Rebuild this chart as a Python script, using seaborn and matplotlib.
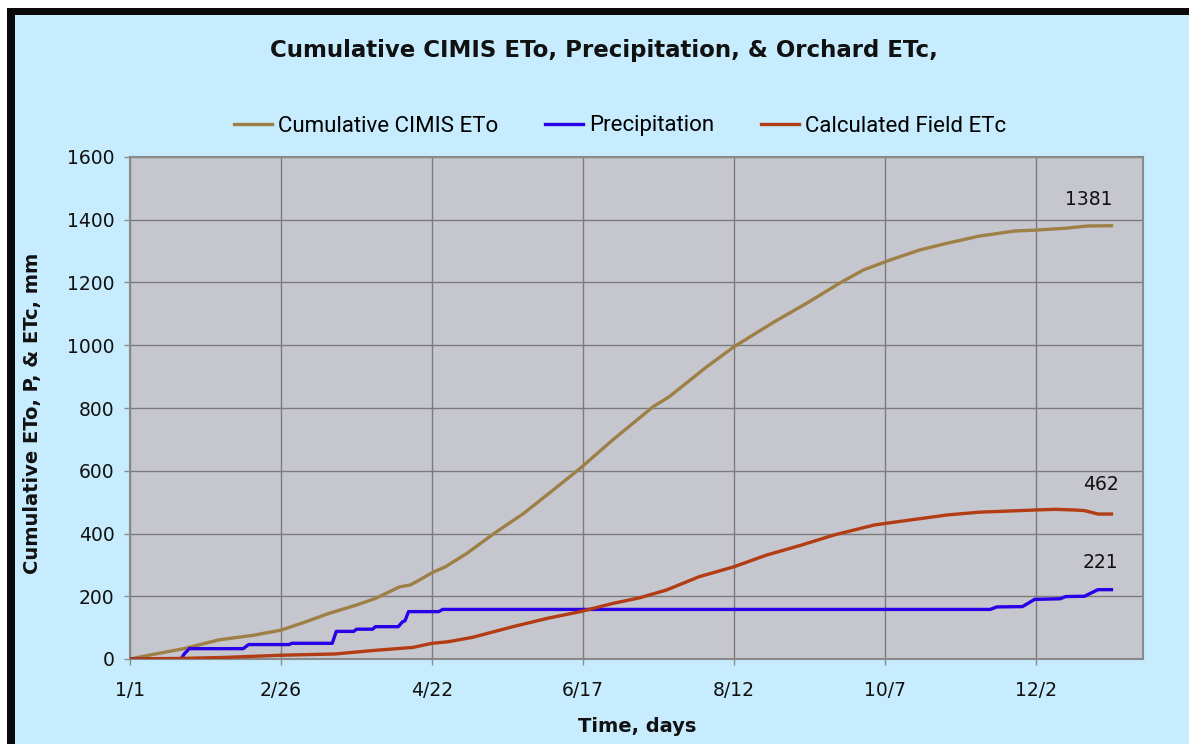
import matplotlib
matplotlib.use("Agg")
import matplotlib.pyplot as plt
import seaborn as sns
import pandas as pd
from matplotlib.patches import Rectangle

# ---- data ----
eto_day = [0, 10, 20, 33, 46, 56, 65, 74, 84, 91, 100, 104, 108, 112, 117, 125, 135, 146, 157, 167,
           179, 194, 200, 214, 224, 239, 251, 263, 272, 282, 293, 303, 315, 328, 336, 347, 355, 364]
eto_val = [0, 17, 33, 61, 76, 92, 118, 146, 172, 193, 230, 236, 255, 275, 294, 337, 400, 464, 539, 608,
           698, 804, 836, 932, 995, 1075, 1134, 1197, 1240, 1272, 1304, 1325, 1348, 1364, 1367, 1373, 1380, 1381]

precip_day = [0, 19, 20, 22, 42, 44, 59, 60, 75, 76.5, 83, 84, 90, 91, 99.5, 101, 102, 103.3, 114.5, 116,
              319, 321.5, 331, 335.5, 345, 347, 354, 359, 364]
precip_val = [0, 0, 15, 33, 33, 46, 46, 50, 50, 88, 88, 95, 95, 103, 103, 118, 122, 151, 151, 158,
              158, 166, 167, 190, 192, 199, 200, 221, 221]

etc_day = [0, 20, 35, 56, 76, 90, 105, 112, 118, 127, 142, 155, 167, 179, 189, 199, 211, 224, 236, 249,
           261, 276, 280, 291, 303, 315, 336, 343, 350, 354, 359, 364]
etc_val = [0, 2, 5, 12, 16, 27, 37, 50, 55, 69, 103, 130, 151, 177, 195, 220, 262, 294, 331, 363,
           395, 427, 432, 445, 459, 468, 475, 477, 475, 473, 462, 462]

tick_days = [0, 56, 112, 168, 224, 280, 336]
tick_labels = ["1/1", "2/26", "4/22", "6/17", "8/12", "10/7", "12/2"]
y_ticks = list(range(0, 1601, 200))

end_labels = ["1381", "462", "221"]

series_names = ["Cumulative CIMIS ETo", "Precipitation", "Calculated Field ETc"]
colors = ["#9E8046", "#2A00E6", "#B23C14"]

# ---- figure ----
W, H = 1189, 744
fig = plt.figure(figsize=(W / 100, H / 100), dpi=100, facecolor="white")

# black frame and light-blue chart area
fig.patches.append(Rectangle((7 / W, 0), 1 - 7 / W, 1 - 8 / H, transform=fig.transFigure,
                             facecolor="#0a0a0a", edgecolor="none", zorder=-3))
fig.patches.append(Rectangle((15 / W, 0), 1 - 15 / W, 1 - 15 / H, transform=fig.transFigure,
                             facecolor="#C6ECFD", edgecolor="none", zorder=-2))

left, right, bottom, top = 130 / W, 1143 / W, 1 - 659 / H, 1 - 157 / H
ax = fig.add_axes([left, bottom, right - left, top - bottom])
ax.set_facecolor("#C6C6CF")

datasets = [(eto_day, eto_val), (precip_day, precip_val), (etc_day, etc_val)]
for (d, v), name, c in zip(datasets, series_names, colors):
    df = pd.DataFrame({"day": d, "value": v})
    sns.lineplot(data=df, x="day", y="value", ax=ax, color=c, lw=2.4, label=name,
                 estimator=None, sort=False, zorder=3)

ax.set_xlim(0, 375.7)
ax.set_ylim(0, 1600)
ax.set_xticks(tick_days)
ax.set_xticklabels(tick_labels)
ax.set_yticks(y_ticks)
ax.grid(True, color="#7a7a7a", lw=1.0, zorder=1)
ax.set_axisbelow(True)
for s in ax.spines.values():
    s.set_color("#8a8a8a")
    s.set_linewidth(1.5)
ax.tick_params(axis="both", colors="#8a8a8a", labelcolor="#111111", labelsize=13.5,
               length=4, width=1)
ax.tick_params(axis="x", pad=12)
ax.tick_params(axis="y", pad=7)
ax.set_xlabel("")
ax.set_ylabel("")

# end value labels
end_pos = [(355.7, 1463), (360, 555), (360, 306)]
for (x, y), t in zip(end_pos, end_labels):
    ax.text(x, y, t, ha="center", va="center", fontsize=13.5, color="#111111")

# legend
handles, labels = ax.get_legend_handles_labels()
ax.get_legend().remove()
fig.legend(handles, labels, loc="center", bbox_to_anchor=(620 / W, 1 - 126 / H), ncol=3,
           frameon=False, handlelength=1.7, handletextpad=0.28, columnspacing=2.1,
           prop={"family": "Roboto", "size": 16})

# titles
fig.text(604 / W, 1 - 50 / H, "Cumulative CIMIS ETo, Precipitation, & Orchard ETc,",
         ha="center", va="center", fontsize=16.5, fontweight="bold", color="#111111")
fig.text(637 / W, 1 - 727 / H, "Time, days", ha="center", va="center",
         fontsize=14, fontweight="bold", color="#111111")
fig.text(33 / W, 1 - 413 / H, "Cumulative ETo, P, & ETc, mm", ha="center", va="center",
         rotation=90, fontsize=14, fontweight="bold", color="#111111")

fig.savefig("out.png", dpi=100, facecolor=fig.get_facecolor())
